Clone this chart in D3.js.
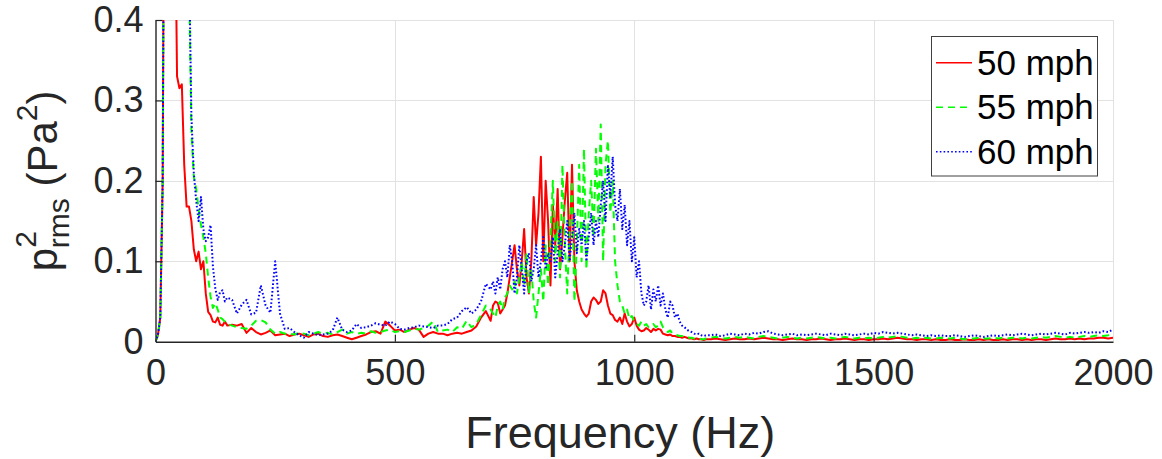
<!DOCTYPE html>
<html><head><meta charset="utf-8">
<script src="https://cdn.jsdelivr.net/npm/d3@7"></script>
<style>
body{margin:0;background:#fff}
svg{display:block}
text{font-family:"Liberation Sans",Arial,Helvetica,sans-serif;fill:#262626}
</style>
</head><body>
<svg id="chart" width="1162" height="459"></svg>
<script>
// Frequency bins (Hz): fine below 150 Hz and in 700-1150 Hz, coarser elsewhere
const freqLow  = d3.range(0, 151, 5);      // 31 bins
const freqMid  = d3.range(160, 701, 10);   // 55 bins
const freqPeak = d3.range(705, 1151, 5);   // 90 bins
const freqHigh = d3.range(1160, 2001, 10); // 85 bins
const freq = [...freqLow, ...freqMid, ...freqPeak, ...freqHigh];

const seriesNames = ["50 mph", "55 mph", "60 mph"];

// p_rms^2 (Pa^2) for 50 mph
const p50 = [
  // 0-150
  0,0.008,0.03,0.2,0.9,2.0,2.2,1.6,0.6,0.33,
  0.315,0.32,0.22,0.168,0.168,0.15,0.115,0.1,0.112,0.09,
  0.1,0.06,0.037,0.033,0.025,0.024,0.03,0.021,0.02,0.025,0.02,
  // 160-700
  0.021,0.02,0.022,0.011,0.017,0.012,0.009,0.011,0.014,0.008,
  0.009,0.01,0.007,0.009,0.01,0.008,0.006,0.009,0.01,0.007,
  0.006,0.008,0.009,0.007,0.005,0.003,0.005,0.007,0.009,0.012,
  0.013,0.01,0.025,0.02,0.014,0.015,0.012,0.015,0.017,0.015,
  0.006,0.01,0.012,0.01,0.01,0.008,0.01,0.011,0.01,0.012,
  0.014,0.019,0.03,0.038,0.026,
  // 705-1150
  0.045,0.05,0.048,0.035,0.04,0.045,0.06,0.08,0.1,0.12,
  0.09,0.07,0.1,0.14,0.08,0.06,0.1,0.18,0.12,0.16,
  0.23,0.1,0.2,0.15,0.07,0.17,0.12,0.19,0.09,0.13,
  0.175,0.21,0.1,0.22,0.1,0.064,0.05,0.04,0.035,0.031,
  0.035,0.05,0.055,0.052,0.047,0.05,0.064,0.06,0.045,0.035,
  0.033,0.027,0.025,0.03,0.022,0.035,0.025,0.019,0.022,0.03,
  0.02,0.015,0.013,0.014,0.017,0.015,0.012,0.016,0.014,0.016,
  0.015,0.01,0.009,0.008,0.009,0.007,0.007,0.006,0.006,0.005,
  0.006,0.005,0.004,0.004,0.003,0.004,0.003,0.003,0.002,0.003,
  // 1160-2000
  0.003,0.004,0.003,0.002,0.003,0.004,0.003,0.003,0.004,0.003,
  0.004,0.005,0.004,0.003,0.003,0.002,0.003,0.004,0.003,0.003,
  0.002,0.003,0.003,0.004,0.003,0.002,0.003,0.003,0.004,0.003,
  0.002,0.003,0.003,0.002,0.003,0.003,0.004,0.003,0.004,0.005,
  0.004,0.003,0.003,0.002,0.003,0.003,0.002,0.003,0.002,0.002,
  0.003,0.002,0.002,0.003,0.002,0.002,0.003,0.002,0.003,0.002,
  0.002,0.003,0.002,0.003,0.003,0.002,0.003,0.002,0.003,0.003,
  0.002,0.003,0.004,0.003,0.003,0.004,0.003,0.004,0.003,0.004,
  0.004,0.005,0.005,0.004,0.005
];

// p_rms^2 (Pa^2) for 55 mph
const p55 = [
  0,0.008,0.03,0.2,0.9,2.5,3.0,3.2,2.8,2.2,
  1.6,1.2,0.9,0.6,0.45,0.26,0.205,0.19,0.165,0.145,
  0.13,0.11,0.08,0.056,0.042,0.048,0.04,0.03,0.028,0.025,0.022,
  0.02,0.018,0.017,0.016,0.02,0.026,0.027,0.024,0.015,0.01,
  0.012,0.01,0.01,0.009,0.011,0.01,0.008,0.01,0.012,0.01,
  0.011,0.009,0.012,0.015,0.01,0.012,0.01,0.011,0.01,0.013,
  0.011,0.012,0.014,0.015,0.012,0.013,0.012,0.014,0.016,0.015,
  0.017,0.02,0.025,0.012,0.014,0.015,0.012,0.018,0.016,0.026,
  0.018,0.022,0.033,0.045,0.04,
  0.035,0.03,0.045,0.05,0.04,0.055,0.06,0.07,0.065,0.075,
  0.06,0.08,0.1,0.07,0.11,0.06,0.09,0.05,0.03,0.06,
  0.09,0.05,0.12,0.07,0.13,0.2,0.1,0.15,0.08,0.22,
  0.12,0.06,0.14,0.2,0.05,0.12,0.22,0.1,0.24,0.09,
  0.16,0.2,0.13,0.24,0.15,0.27,0.1,0.22,0.25,0.16,
  0.2,0.1,0.07,0.05,0.045,0.035,0.04,0.028,0.032,0.025,
  0.022,0.02,0.025,0.02,0.022,0.018,0.02,0.022,0.018,0.02,
  0.025,0.018,0.015,0.012,0.014,0.01,0.009,0.008,0.007,0.007,
  0.006,0.006,0.005,0.005,0.004,0.004,0.004,0.003,0.003,0.004,
  0.005,0.006,0.005,0.004,0.005,0.006,0.005,0.006,0.005,0.004,
  0.006,0.007,0.006,0.005,0.004,0.005,0.006,0.005,0.004,0.005,
  0.004,0.005,0.006,0.005,0.004,0.005,0.004,0.005,0.006,0.005,
  0.004,0.005,0.004,0.005,0.004,0.005,0.006,0.005,0.006,0.007,
  0.006,0.005,0.004,0.005,0.004,0.005,0.004,0.004,0.005,0.004,
  0.004,0.005,0.004,0.003,0.004,0.004,0.005,0.004,0.004,0.005,
  0.004,0.005,0.004,0.005,0.005,0.004,0.005,0.004,0.005,0.006,
  0.005,0.006,0.007,0.006,0.005,0.006,0.005,0.006,0.007,0.006,
  0.007,0.008,0.007,0.008,0.01
];

// p_rms^2 (Pa^2) for 60 mph
const p60 = [
  0,0.008,0.03,0.2,0.9,2.8,3.4,3.5,3.0,2.4,
  1.8,1.3,1.0,0.7,0.48,0.28,0.21,0.175,0.15,0.18,
  0.14,0.125,0.13,0.145,0.093,0.066,0.052,0.062,0.064,0.05,0.055,
  0.052,0.035,0.046,0.052,0.034,0.036,0.07,0.045,0.036,0.1,
  0.035,0.016,0.017,0.012,0.008,0.005,0.012,0.01,0.008,0.009,
  0.01,0.014,0.03,0.015,0.012,0.014,0.022,0.017,0.018,0.02,
  0.023,0.021,0.02,0.025,0.022,0.016,0.015,0.017,0.018,0.02,
  0.019,0.018,0.017,0.02,0.02,0.022,0.028,0.03,0.038,0.043,
  0.035,0.04,0.05,0.072,0.065,
  0.075,0.06,0.08,0.065,0.09,0.1,0.08,0.12,0.1,0.06,
  0.08,0.12,0.09,0.06,0.1,0.11,0.075,0.09,0.12,0.08,
  0.1,0.13,0.09,0.11,0.1,0.13,0.08,0.11,0.14,0.1,
  0.12,0.15,0.1,0.13,0.16,0.11,0.14,0.12,0.15,0.1,
  0.13,0.16,0.12,0.15,0.13,0.17,0.2,0.15,0.22,0.18,
  0.23,0.17,0.15,0.19,0.14,0.17,0.12,0.15,0.1,0.13,
  0.08,0.1,0.06,0.045,0.05,0.07,0.04,0.065,0.05,0.07,
  0.045,0.06,0.04,0.03,0.05,0.045,0.03,0.035,0.025,0.02,
  0.018,0.015,0.013,0.012,0.01,0.009,0.01,0.008,0.007,0.008,
  0.008,0.009,0.007,0.008,0.01,0.009,0.008,0.01,0.009,0.011,
  0.01,0.012,0.013,0.01,0.009,0.008,0.009,0.01,0.008,0.009,
  0.008,0.009,0.01,0.009,0.008,0.01,0.009,0.008,0.01,0.009,
  0.008,0.009,0.01,0.009,0.011,0.01,0.012,0.011,0.01,0.011,
  0.01,0.009,0.008,0.009,0.008,0.007,0.008,0.007,0.008,0.007,
  0.007,0.008,0.007,0.006,0.007,0.008,0.007,0.006,0.007,0.008,
  0.007,0.008,0.009,0.008,0.009,0.01,0.009,0.008,0.009,0.01,
  0.009,0.01,0.011,0.01,0.009,0.011,0.01,0.011,0.012,0.011,
  0.012,0.011,0.013,0.012,0.015
];

const xTicks = [0, 500, 1000, 1500, 2000];
const yTicks = [0, 0.1, 0.2, 0.3, 0.4];
const xTickLabels = ["0", "500", "1000", "1500", "2000"];
const yTickLabels = ["0", "0.1", "0.2", "0.3", "0.4"];

const colors = ["#ff0000", "#00ff00", "#0000ff"];
const dashes = [null, "7,5", "1.6,2.2"];

const svg = d3.select("#chart");
const L = 155.5, R = 1113, T = 20, B = 341.7;
const x = d3.scaleLinear().domain([0, 2000]).range([L, R]);
const y = d3.scaleLinear().domain([0, 0.4]).range([B, T]);

// grid
const grid = svg.append("g").attr("stroke", "#e2e2e2").attr("stroke-width", 1);
grid.selectAll(".gx").data(xTicks.slice(1)).join("line")
  .attr("x1", d => Math.round(x(d)) + 0.5).attr("x2", d => Math.round(x(d)) + 0.5)
  .attr("y1", T).attr("y2", B);
grid.selectAll(".gy").data(yTicks.slice(1)).join("line")
  .attr("y1", d => Math.round(y(d)) + 0.5).attr("y2", d => Math.round(y(d)) + 0.5)
  .attr("x1", L).attr("x2", R);

// clip
svg.append("clipPath").attr("id", "clip").append("rect")
  .attr("x", L).attr("y", T).attr("width", R - L).attr("height", B - T);

const series = [p50, p55, p60];
const line = d3.line().x((d, i) => x(freq[i])).y(d => y(d));
const plot = svg.append("g").attr("clip-path", "url(#clip)");
series.forEach((s, k) => {
  plot.append("path").datum(s)
    .attr("d", line)
    .attr("fill", "none")
    .attr("stroke", colors[k])
    .attr("stroke-width", 2)
    .attr("stroke-linejoin", "round")
    .attr("stroke-dasharray", dashes[k]);
});

// axes
const axisColor = "#262626";
const xAxis = d3.axisBottom(x).tickValues(xTicks).tickFormat((d, i) => xTickLabels[i])
  .tickSizeInner(-7).tickSizeOuter(0).tickPadding(18);
const gx = svg.append("g").attr("transform", `translate(0,${B})`).call(xAxis);
const yAxis = d3.axisLeft(y).tickValues(yTicks).tickFormat((d, i) => yTickLabels[i])
  .tickSizeInner(-7).tickSizeOuter(0).tickPadding(12);
const gy = svg.append("g").attr("transform", `translate(${L},0)`).call(yAxis);
[gx, gy].forEach(g => {
  g.select(".domain").attr("stroke", axisColor).attr("stroke-width", 1.4);
  g.selectAll(".tick line").attr("stroke", axisColor).attr("stroke-width", 1.2);
  g.selectAll(".tick text").attr("fill", axisColor)
    .style("font-size", "36px").style("font-family", '"Liberation Sans",Arial,sans-serif');
});
gx.selectAll(".tick line").filter(d => d === 0 || d === 2000).remove();
gy.selectAll(".tick line").filter(d => d === 0).remove();

// axis labels
svg.append("text").attr("x", (L + R) / 2 - 14).attr("y", 448)
  .attr("text-anchor", "middle").style("font-size", "45px").text("Frequency (Hz)");

const yl = svg.append("text")
  .attr("transform", `translate(57,${(T + B) / 2}) rotate(-90)`)
  .attr("text-anchor", "middle").style("font-size", "42px");
yl.append("tspan").text("p");
yl.append("tspan").attr("dy", -21).style("font-size", "30px").text("2");
yl.append("tspan").attr("dx", -17).attr("dy", 33).style("font-size", "30px").text("rms");
yl.append("tspan").attr("dy", -12).text(" (Pa");
yl.append("tspan").attr("dy", -20).style("font-size", "30px").text("2");
yl.append("tspan").attr("dy", 20).text(")");

// legend
const lg = svg.append("g");
lg.append("rect").attr("x", 931.5).attr("y", 36.5).attr("width", 166).attr("height", 139.5)
  .attr("fill", "#fff").attr("stroke", "#404040").attr("stroke-width", 1);
const rowY = [62.7, 107.2, 151.7];
seriesNames.forEach((name, k) => {
  lg.append("line").attr("x1", 936).attr("x2", 972).attr("y1", rowY[k]).attr("y2", rowY[k])
    .attr("stroke", colors[k]).attr("stroke-width", 1.5).attr("stroke-dasharray", dashes[k]);
  lg.append("text").attr("x", 977).attr("y", rowY[k] + 12)
    .style("font-size", "35px").style("fill", "#000").text(name);
});
</script>
</body></html>
